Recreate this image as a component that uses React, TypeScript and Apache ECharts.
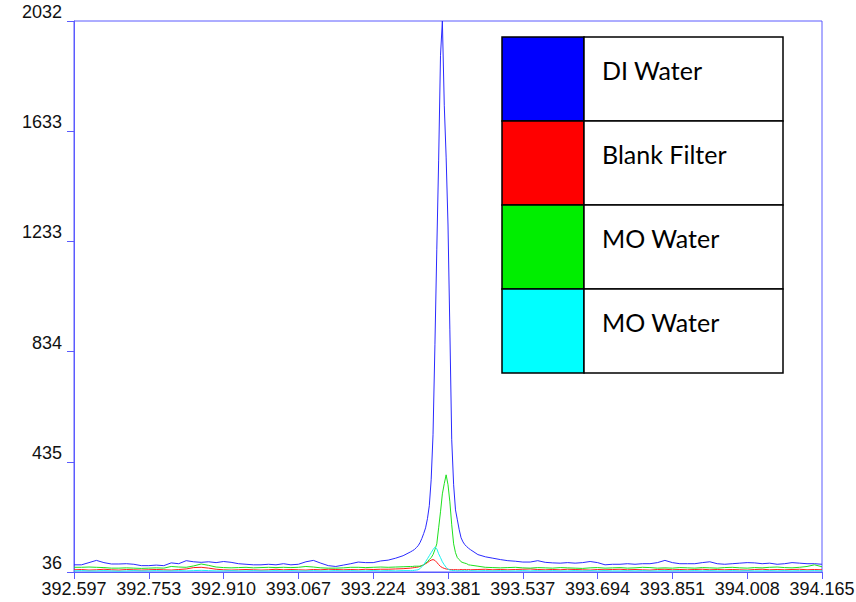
import React, { useEffect, useRef } from "react";
import * as echarts from "echarts";

// Wavelength samples (nm)
const WAVELENGTHS = [
  392.597, 392.6127, 392.6284, 392.644, 392.6597, 392.6754, 392.6911, 392.7068, 392.7224, 392.7381,
  392.7538, 392.7695, 392.7852, 392.8008, 392.8165, 392.8322, 392.8479, 392.8636, 392.8792, 392.8949,
  392.9106, 392.9263, 392.942, 392.9576, 392.9733, 392.989, 393.0047, 393.0204, 393.036, 393.0517,
  393.0674, 393.0831, 393.0988, 393.1144, 393.1301, 393.1458, 393.1615, 393.1772, 393.1928, 393.2085,
  393.2242, 393.2399, 393.2556, 393.2712, 393.2869, 393.3026,
  393.3065, 393.3104, 393.3144, 393.3183, 393.3222, 393.3261, 393.33, 393.334, 393.3379, 393.3418,
  393.3457, 393.3496, 393.3536, 393.3575, 393.3614, 393.3653, 393.3692, 393.3732, 393.3771, 393.381,
  393.3849, 393.3888, 393.3928, 393.3967, 393.4006, 393.4045, 393.4084, 393.4124, 393.4163, 393.4202,
  393.4241, 393.428,
  393.4437, 393.4594, 393.475, 393.4907, 393.5064, 393.5221, 393.5378, 393.5534, 393.5691, 393.5848,
  393.6005, 393.6162, 393.6318, 393.6475, 393.6632, 393.6789, 393.6946, 393.7102, 393.7259, 393.7416,
  393.7573, 393.773, 393.7886, 393.8043, 393.82, 393.8357, 393.8514, 393.867, 393.8827, 393.8984,
  393.9141, 393.9298, 393.9454, 393.9611, 393.9768, 393.9925, 394.0082, 394.0238, 394.0395, 394.0552,
  394.0709, 394.0866, 394.1022, 394.1179, 394.1336, 394.1493, 394.165,
];

const DI_WATER = [
  62, 62, 70, 78, 70, 65, 65, 66, 64, 59,
  59, 61, 59, 69, 66, 77, 73, 71, 73, 70,
  74, 71, 66, 64, 62, 62, 64, 62, 66, 62,
  64, 73, 78, 68, 59, 56, 61, 66, 72, 70,
  70, 76, 79, 86, 95, 109,
  113, 117, 124, 131, 142, 157, 175, 196, 229, 276,
  370, 533, 859, 1203, 1528, 1908, 2032, 1727, 1539, 1293,
  913, 515, 352, 261, 225, 189, 160, 145, 135, 128,
  122, 117,
  99, 91, 86, 81, 77, 75, 72, 72, 77, 71,
  69, 68, 70, 68, 70, 74, 70, 62, 64, 64,
  66, 64, 66, 66, 70, 78, 70, 66, 66, 66,
  70, 73, 66, 64, 66, 68, 70, 69, 66, 68,
  64, 66, 70, 68, 66, 66, 64,
];

const BLANK_FILTER = [
  44, 45, 43, 44, 46, 44, 43, 45, 44, 43,
  44, 45, 44, 43, 45, 47, 52, 53, 50, 46,
  44, 43, 44, 45, 44, 43, 44, 46, 44, 45,
  44, 43, 45, 44, 46, 45, 44, 45, 44, 46,
  45, 46, 46, 47, 48, 50,
  51, 52, 53, 54, 56, 59, 62, 66, 70, 75,
  79, 81, 78, 71, 63, 56, 52, 49, 47, 46,
  45, 45, 44, 45, 44, 44, 45, 44, 45, 44,
  45, 44,
  45, 46, 44, 45, 44, 45, 46, 47, 45, 44,
  45, 44, 46, 45, 44, 43, 45, 44, 45, 46,
  44, 45, 44, 43, 45, 46, 44, 45, 44, 45,
  46, 44, 45, 44, 45, 44, 43, 45, 46, 44,
  45, 44, 45, 46, 44, 45, 44,
];

const MO_WATER = [
  53, 53, 54, 53, 52, 50, 50, 51, 50, 49,
  50, 51, 50, 56, 54, 53, 58, 65, 60, 54,
  52, 51, 52, 53, 51, 52, 53, 52, 53, 52,
  53, 56, 54, 51, 50, 50, 51, 53, 53, 52,
  53, 54, 53, 54, 55, 56,
  56, 57, 57, 57, 57, 59, 62, 68, 73, 81,
  88, 99, 117, 138, 196, 254, 319, 356, 388, 352,
  290, 207, 138, 106, 88, 81, 73, 70, 68, 66,
  62, 61,
  57, 53, 52, 51, 52, 53, 51, 50, 52, 51,
  50, 52, 51, 50, 49, 51, 52, 50, 51, 52,
  50, 51, 53, 52, 50, 51, 50, 52, 51, 50,
  52, 51, 50, 52, 53, 51, 50, 52, 51, 53,
  54, 52, 51, 53, 56, 62, 55,
];

const MO_WATER_2 = [
  40, 41, 40, 40, 41, 40, 39, 40, 41, 40,
  40, 41, 40, 40, 41, 40, 41, 42, 41, 40,
  40, 41, 40, 40, 41, 40, 40, 41, 40, 41,
  40, 40, 41, 40, 40, 41, 40, 41, 40, 40,
  41, 40, 41, 40, 41, 41,
  41, 42, 43, 44, 48, 55, 62, 73, 84, 95,
  106, 117, 126, 120, 102, 88, 73, 62, 53, 46,
  43, 42, 41, 41, 40, 41, 40, 41, 40, 41,
  40, 41,
  40, 41, 40, 41, 40, 40, 41, 40, 41, 40,
  41, 40, 40, 41, 40, 41, 40, 41, 40, 40,
  41, 40, 41, 40, 40, 41, 40, 41, 40, 41,
  40, 41, 40, 40, 41, 40, 41, 40, 40, 41,
  40, 41, 40, 41, 40, 41, 40,
];

const X_TICK_LABELS = [
  "392.597", "392.753", "392.910", "393.067", "393.224", "393.381",
  "393.537", "393.694", "393.851", "394.008", "394.165",
];
const Y_TICK_LABELS = ["36", "435", "834", "1233", "1633", "2032"];

const SERIES_NAMES = ["DI Water", "Blank Filter", "MO Water", "MO Water"];
const SERIES_COLORS = ["#2a2aff", "#ff1a1a", "#1ee01e", "#1af0f0"];
const LEGEND_COLORS = ["#0000ff", "#ff0000", "#00ee00", "#00ffff"];

const X_MIN = 392.597;
const X_MAX = 394.165;
const Y_MIN = 36;
const Y_MAX = 2032;

export default function App() {
  const ref = useRef<HTMLDivElement>(null);

  useEffect(() => {
    if (!ref.current) return;
    const chart = echarts.init(ref.current, undefined, { renderer: "svg" });
    const xSpan = X_MAX - X_MIN;
    const ySpan = Y_MAX - Y_MIN;
    const xStep = xSpan / (X_TICK_LABELS.length - 1);
    const yStep = ySpan / (Y_TICK_LABELS.length - 1);
    const allSeries = [DI_WATER, BLANK_FILTER, MO_WATER, MO_WATER_2];
    const frame = "#5b5bff";

    const legendTop = 37;
    const rowH = 84;
    const legendLeft = 502;
    const colW = 82;
    const textW = 199;
    const legendGraphics: any[] = [];
    SERIES_NAMES.forEach((name, i) => {
      const y = legendTop + rowH * i;
      legendGraphics.push({
        type: "rect",
        shape: { x: legendLeft, y, width: colW, height: rowH },
        style: { fill: LEGEND_COLORS[i], stroke: "#000", lineWidth: 1.5 },
        z: 10,
      });
      legendGraphics.push({
        type: "rect",
        shape: { x: legendLeft + colW, y, width: textW, height: rowH },
        style: { fill: "#fff", stroke: "#000", lineWidth: 1.5 },
        z: 10,
      });
      legendGraphics.push({
        type: "text",
        x: 602,
        y: y + 33,
        style: {
          text: name,
          fill: "#000",
          font: "25px Lato",
          verticalAlign: "middle",
          align: "left",
        },
        z: 11,
      });
    });

    chart.setOption({
      animation: false,
      backgroundColor: "#fff",
      grid: {
        left: 74,
        right: 34,
        top: 21,
        bottom: 30,
        show: true,
        borderColor: frame,
        borderWidth: 1,
        backgroundColor: "transparent",
        containLabel: false,
        outerBoundsMode: "none",
      },
      xAxis: {
        type: "value",
        min: 0,
        max: xSpan,
        interval: xStep,
        axisLine: { show: true, lineStyle: { color: frame, width: 1 } },
        axisTick: { show: true, length: 7, lineStyle: { color: frame, width: 1 } },
        splitLine: { show: false },
        axisLabel: {
          show: true,
          margin: 8,
          color: "#111",
          fontFamily: "Liberation Sans",
          fontSize: 18,
          showMinLabel: true,
          showMaxLabel: true,
          hideOverlap: false,
          formatter: (v: number) => X_TICK_LABELS[Math.round(v / xStep)] ?? "",
        },
      },
      yAxis: {
        type: "value",
        min: 0,
        max: ySpan,
        interval: yStep,
        axisLine: { show: true, lineStyle: { color: frame, width: 1 } },
        axisTick: { show: true, length: 7, lineStyle: { color: frame, width: 1 } },
        splitLine: { show: false },
        axisLabel: {
          show: true,
          margin: 12,
          color: "#111",
          fontFamily: "Liberation Sans",
          fontSize: 18,
          verticalAlign: "bottom",
          showMinLabel: true,
          showMaxLabel: true,
          formatter: (v: number) => Y_TICK_LABELS[Math.round(v / yStep)] ?? "",
        },
      },
      series: allSeries.map((vals, i) => ({
        name: SERIES_NAMES[i],
        type: "line",
        symbol: "none",
        silent: true,
        lineStyle: { color: SERIES_COLORS[i], width: 1 },
        data: WAVELENGTHS.map((w, j) => [w - X_MIN, vals[j] - Y_MIN]),
        z: 2 + i,
      })),
      graphic: legendGraphics,
    });

    return () => {
      chart.dispose();
    };
  }, []);

  return (
    <div
      ref={ref}
      style={{ position: "fixed", left: 0, top: 0, width: 856, height: 602 }}
    />
  );
}
